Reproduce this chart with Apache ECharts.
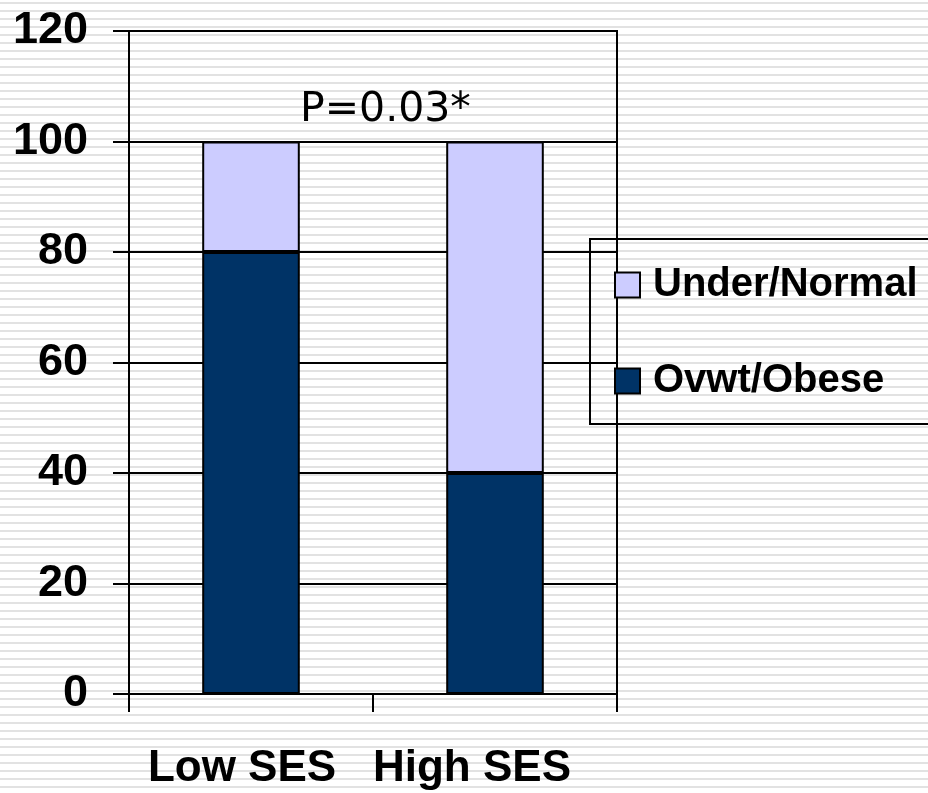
<!DOCTYPE html>
<html>
<head>
<meta charset="utf-8">
<script src="https://cdn.jsdelivr.net/npm/echarts@6/dist/echarts.min.js"></script>
<style>
  html, body { margin: 0; padding: 0; }
  /* striped slide background */
  #chart {
    width: 928px;
    height: 793px;
    background: repeating-linear-gradient(to bottom, #ffffff 0px, #ffffff 2px, #e2e2e2 2px, #e2e2e2 4px, #ffffff 4px, #ffffff 8px);
  }
</style>
</head>
<body>
<div id="chart"></div>
<script>
// categories and values (percent)
const categories = ["Low SES", "High SES"];
const ovwtObese = [80, 40];     // Ovwt/Obese
const underNormal = [20, 60];   // Under/Normal
const pValueText = "P=0.03*";

const chart = echarts.init(document.getElementById("chart"), null, { renderer: "canvas" });

const boldFont = "'Liberation Sans', Arial, sans-serif";

const option = {
  backgroundColor: "transparent",
  animation: false,
  title: {
    text: pValueText,
    left: 300,
    top: 90,
    padding: 0,
    textStyle: {
      fontFamily: "'DejaVu Sans', sans-serif",
      fontWeight: "normal",
      fontSize: 41,
      color: "#000"
    }
  },
  legend: {
    data: ["Under/Normal", "Ovwt/Obese"],
    orient: "vertical",
    left: 590,
    top: 239,
    padding: [26, 30, 23, 24],
    itemGap: 56,
    itemWidth: 25,
    itemHeight: 25,
    icon: "rect",
    borderColor: "#000",
    borderWidth: 2,
    textStyle: {
      fontFamily: boldFont,
      fontWeight: "bold",
      fontSize: 40,
      lineHeight: 40,
      color: "#000",
      padding: [0, 0, 0, 8]
    }
  },
  grid: {
    left: 129,
    right: 311,
    top: 31,
    bottom: 99,
    show: true,
    borderColor: "#000",
    borderWidth: 2,
    backgroundColor: "transparent"
  },
  xAxis: {
    type: "category",
    data: categories,
    axisLine: { lineStyle: { color: "#000", width: 2 } },
    axisTick: { show: true, length: 18, lineStyle: { color: "#000", width: 2 } },
    axisLabel: {
      interval: 0,
      hideOverlap: false,
      margin: 53,
      color: "#000",
      fontFamily: boldFont,
      fontWeight: "bold",
      fontSize: 44,
      formatter: function (v, i) {
        return "{c" + i + "|" + v + "}";
      },
      rich: {
        c0: { padding: [0, 18, 0, 0], fontFamily: boldFont, fontWeight: "bold", fontSize: 44, color: "#000" },
        c1: { padding: [0, 46, 0, 0], fontFamily: boldFont, fontWeight: "bold", fontSize: 44, color: "#000" }
      }
    }
  },
  yAxis: {
    type: "value",
    min: 0,
    max: 120,
    interval: 20,
    axisLine: { show: true, lineStyle: { color: "#000", width: 2 } },
    axisTick: { show: true, length: 16, lineStyle: { color: "#000", width: 2 } },
    splitLine: { show: true, lineStyle: { color: "#000", width: 2 } },
    axisLabel: {
      margin: 41,
      color: "#000",
      fontFamily: boldFont,
      fontWeight: "bold",
      fontSize: 45
    }
  },
  series: [
    {
      name: "Ovwt/Obese",
      type: "bar",
      stack: "total",
      barWidth: "40%",
      data: ovwtObese,
      itemStyle: { color: "#003366", borderColor: "#000", borderWidth: 2 }
    },
    {
      name: "Under/Normal",
      type: "bar",
      stack: "total",
      barWidth: "40%",
      data: underNormal,
      itemStyle: { color: "#CCCCFF", borderColor: "#000", borderWidth: 2 }
    }
  ]
};

chart.setOption(option);
</script>
</body>
</html>
